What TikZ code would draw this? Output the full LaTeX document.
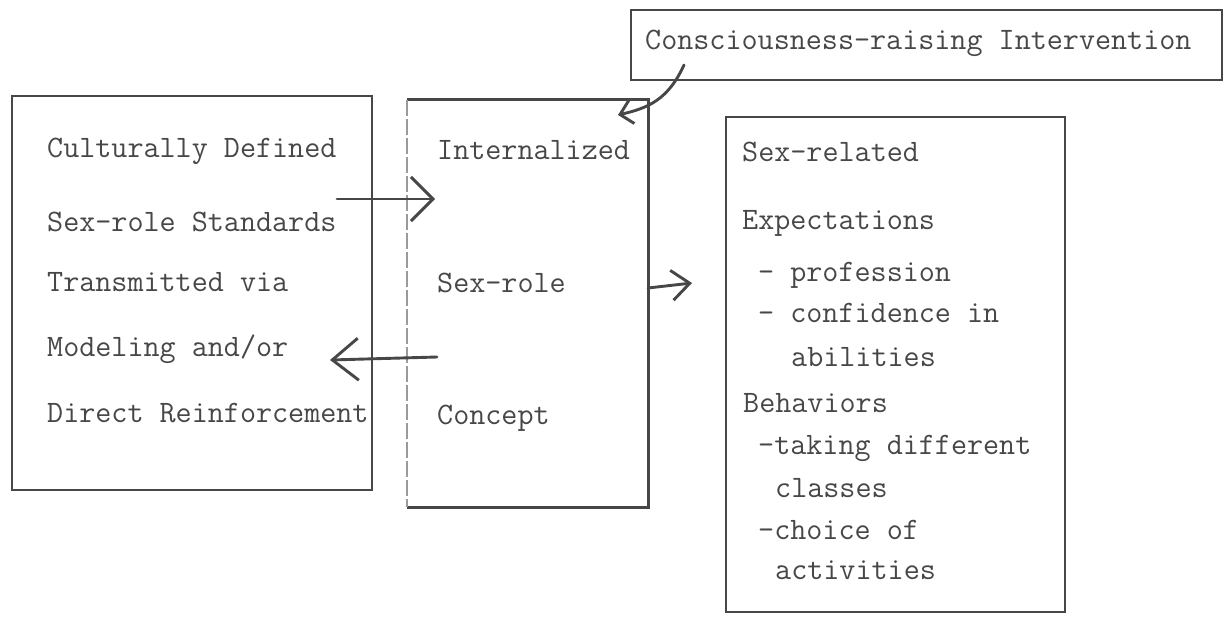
\documentclass[tikz,border=0pt]{standalone}
\usepackage{fontspec}
\usetikzlibrary{arrows.meta}
\definecolor{ink}{gray}{0.28}

\begin{document}
\begin{tikzpicture}[x=1pt,y=-1pt,font=\ttfamily\fontsize{31.2}{37}\selectfont,text=ink,
  box/.style={draw=ink,line width=2.9pt,inner sep=0pt},
  edge/.style={draw=ink,line width=2.9pt},
  faint/.style={draw=ink!55,line width=1.4pt,dash pattern=on 16pt off 3pt},
  txt/.style={anchor=base west,inner sep=0pt},
  barb/.style={draw=ink,line width=2.9pt,line cap=round,-{Straight Barb[length=#1]}}]
  \useasboundingbox (0,0) rectangle (1229,616);
  % boxes
  \node[box,minimum width=360pt,minimum height=394pt] (culture) at (192,293) {};
  \node[inner sep=0pt,minimum width=241pt,minimum height=407pt] (internal) at (527.5,303.5) {};
  \draw[edge] (internal.south west) -- (internal.south east) -- (internal.north east) -- (internal.north west);
  \draw[faint] (internal.north west) -- (internal.south west);
  \node[box,minimum width=591pt,minimum height=70pt] (interv) at (926.5,45) {};
  \node[box,minimum width=339pt,minimum height=495pt] (outcome) at (895.5,364.5) {};
  % texts
  \foreach \y/\t [count=\i] in {157/Culturally Defined,231/Sex-role Standards,291/Transmitted via,356/{Modeling and/or},422/Direct Reinforcement}
    \node[txt] (c\i) at (47,\y) {\t};
  \foreach \y/\t [count=\i] in {159/Internalized,292/Sex-role,424/Concept}
    \node[txt] (m\i) at (437,\y) {\t};
  \node[txt] (i1) at (645,49) {Consciousness-raising Intervention};
  \foreach \x/\y/\t [count=\i] in {742/161/Sex-related,742/229/Expectations,758/281/- profession,758/322/- confidence in,791/366/abilities,743/412/Behaviors,758/454/-taking different,775/497/classes,758/539/-choice of,775/579/activities}
    \node[txt] (r\i) at (\x,\y) {\t};
  % arrows
  \coordinate (a1) at (337,199);
  \coordinate (a2) at (435,199);
  \coordinate (b1) at (437,357);
  \coordinate (b2) at (330,360);
  \coordinate (d1) at (648,288);
  \coordinate (d2) at (692,283);
  \coordinate (e1) at (684,65);
  \coordinate (e2) at (618,115);
  \draw[barb={22pt 0 1}] (a1) -- (a2);
  \draw[barb={26pt 0 1},arrows={-Straight Barb[length=26pt,width=42pt]}] (b1) -- (b2);
  \draw[barb={18pt 0 1},arrows={-Straight Barb[length=18pt,width=30pt]}] (d1) -- (d2);
  \draw[barb={12pt 0 1},arrows={-Straight Barb[length=12pt,width=24pt]}] (e1) .. controls (668,100) and (648,108) .. (e2);
\end{tikzpicture}
\end{document}
